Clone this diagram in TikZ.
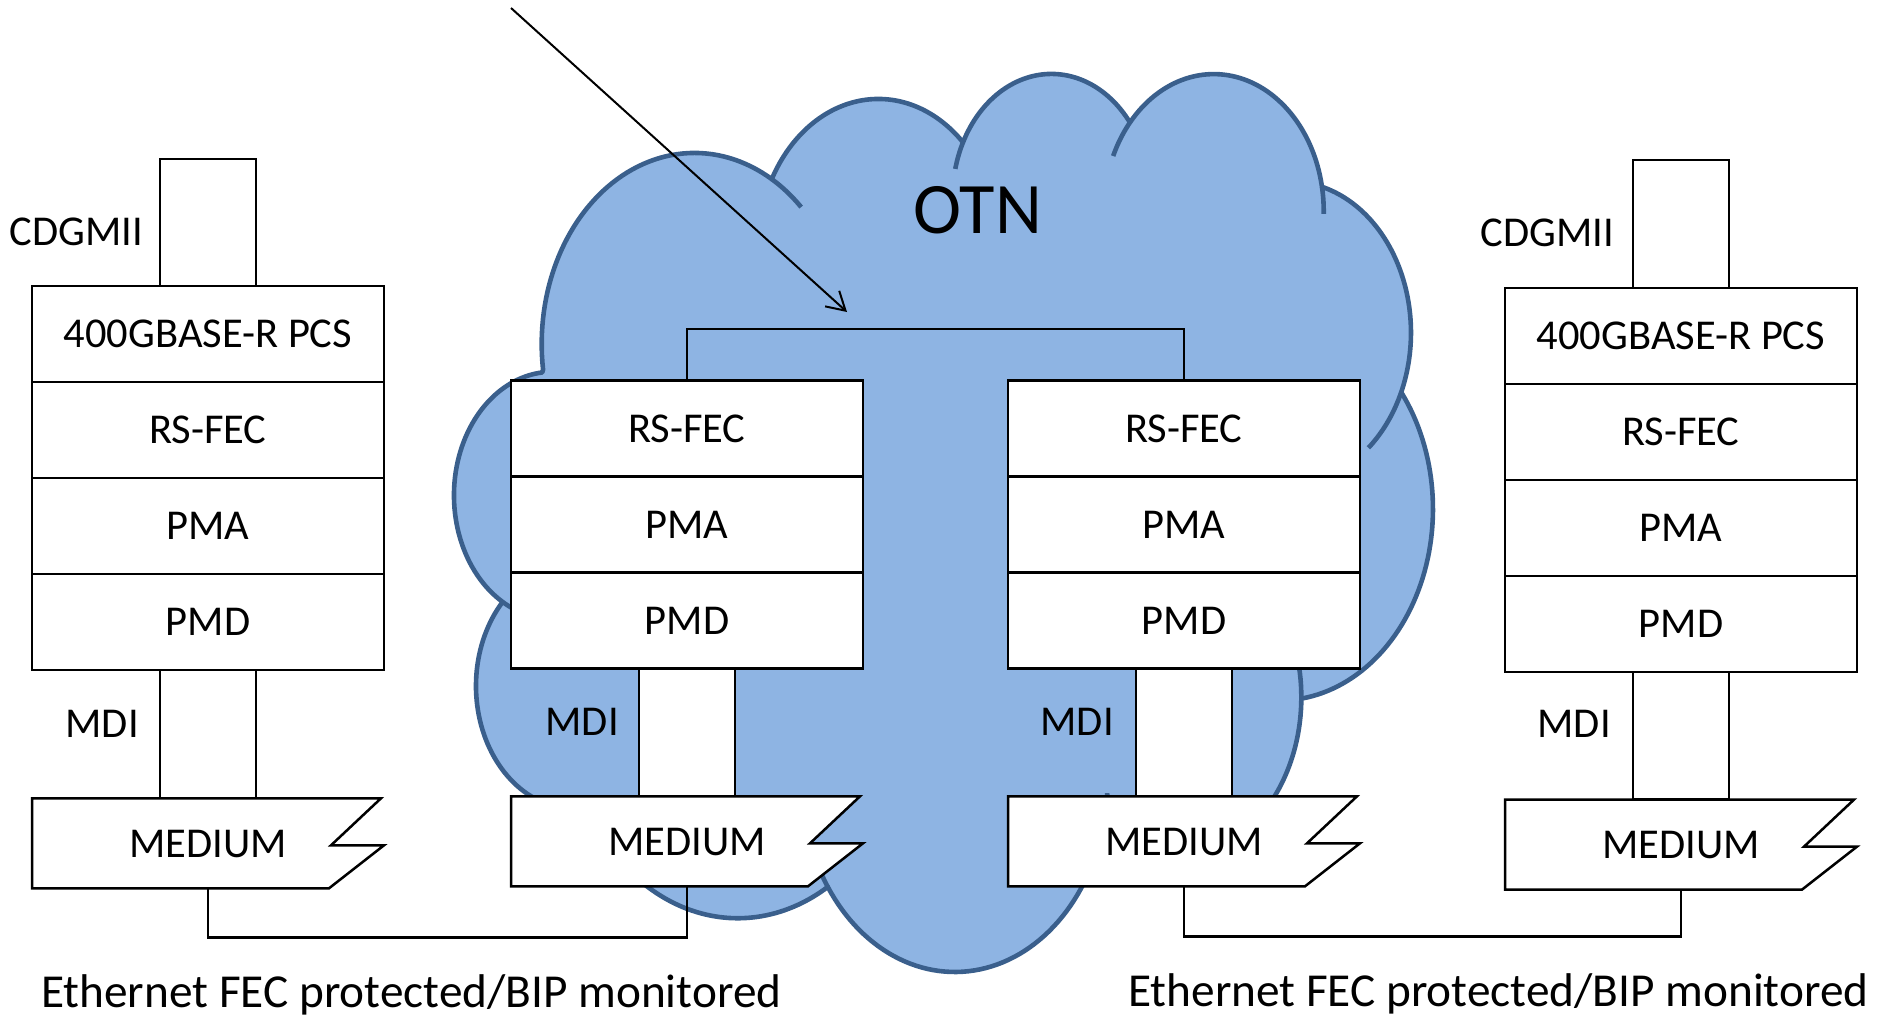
\documentclass[tikz,border=0pt]{standalone}
\usepackage{fontspec}
\setmainfont{Carlito}
\usetikzlibrary{arrows.meta,calc}
\definecolor{cloudfill}{RGB}{142,180,227}
\definecolor{cloudline}{RGB}{58,95,140}
\newcommand\lblfont{\fontsize{42.5pt}{50pt}\selectfont}
\newcommand\otnfont{\fontsize{72.5pt}{84pt}\selectfont}
\newcommand\btmfont{\fontsize{47.3pt}{56pt}\selectfont}
\newcommand\mediumshape[3]{%
  \coordinate (#1c) at (#2,#3);
  \draw[medline] ($(#1c)+(-176,-45)$) -- ($(#1c)+(173,-45)$) -- ($(#1c)+(123,2)$) -- ($(#1c)+(176,2)$) -- ($(#1c)+(121,45)$) -- ($(#1c)+(-176,45)$) -- cycle;
  \node[medbox] (#1) at (#1c) {MEDIUM};
}
\begin{document}
\begin{tikzpicture}[x=1pt,y=-1pt,
  layer/.style={draw,line width=2.5pt,fill=white,minimum width=352pt,minimum height=96pt,inner sep=0pt,text height=27.4pt,text depth=0pt,font=\lblfont},
  iface/.style={draw,line width=2.2pt,fill=white,minimum width=96pt,inner sep=0pt},
  medbox/.style={minimum width=352pt,minimum height=90pt,inner sep=0pt,text height=27.4pt,text depth=0pt,font=\lblfont},
  medline/.style={draw,line width=2.5pt,fill=white,line join=miter},
  lbl/.style={font=\lblfont,inner sep=0pt,anchor=base east},
  conn/.style={draw,line width=2.2pt},
  cloudedge/.style={draw=cloudline,line width=4.6pt,line cap=butt},
]
\useasboundingbox (0,0) rectangle (1879,1015);

% ---------- cloud ----------
\filldraw[fill=cloudfill,draw=cloudline,line width=4.6pt,line join=round]
  plot[domain=-187.747:-59.632,samples=60] ({694.5+152.83*cos(\x)},{343.9+190.97*sin(\x)})
  -- plot[domain=-152.02:-45.464,samples=60] ({878.35+120.70*cos(\x)},{249.95+151.01*sin(\x)})
  -- plot[domain=-153.49:-37.348,samples=60] ({1051.41+98.79*cos(\x)},{197.45+123.54*sin(\x)})
  -- plot[domain=-139.716:-10.212,samples=60] ({1213.79+109.92*cos(\x)},{211.12+137.04*sin(\x)})
  -- plot[domain=-74.768:23.212,samples=60] ({1290.27+120.70*cos(\x)},{332.65+151.13*sin(\x)})
  -- plot[domain=-37.545:81.862,samples=60] ({1279.63+153.33*cos(\x)},{508.95+191.59*sin(\x)})
  -- plot[domain=0.46:121.98,samples=60] ({1170.41+130.93*cos(\x)},{697.30+163.48*sin(\x)})
  -- plot[domain=16.845:146.23,samples=60] ({954.82+152.81*cos(\x)},{780.49+191.49*sin(\x)})
  -- plot[domain=58.989:150.19,samples=60] ({737.76+174.72*cos(\x)},{699.16+219.08*sin(\x)})
  -- plot[domain=83.307:223.09,samples=60] ({574.66+98.68*cos(\x)},{685.93+122.98*sin(\x)})
  -- plot[domain=120.35:264.114,samples=60] ({552.30+98.34*cos(\x)},{495.32+123.54*sin(\x)})
  -- cycle;
% inner arcs of the cloud
\draw[cloudedge] plot[domain=-59.632:-45.75,samples=20] ({694.5+152.83*cos(\x)},{343.9+190.97*sin(\x)});
\draw[cloudedge] plot[domain=-166.64:-153.49,samples=20] ({1051.41+98.79*cos(\x)},{197.45+123.54*sin(\x)});
\draw[cloudedge] plot[domain=-156.29:-139.716,samples=20] ({1213.79+109.92*cos(\x)},{211.12+137.04*sin(\x)});
\draw[cloudedge] plot[domain=-10.212:1.116,samples=20] ({1213.79+109.92*cos(\x)},{211.12+137.04*sin(\x)});
\draw[cloudedge] plot[domain=23.212:49.65,samples=20] ({1290.27+120.70*cos(\x)},{332.65+151.13*sin(\x)});
\draw[cloudedge] plot[domain=-64.59:0.46,samples=30] ({1170.41+130.93*cos(\x)},{697.30+163.48*sin(\x)});
\draw[cloudedge] plot[domain=3.79:16.845,samples=20] ({954.82+152.81*cos(\x)},{780.49+191.49*sin(\x)});
\draw[cloudedge] plot[domain=146.23:158.47,samples=20] ({954.82+152.81*cos(\x)},{780.49+191.49*sin(\x)});
\draw[cloudedge] plot[domain=67.34:83.307,samples=20] ({574.66+98.68*cos(\x)},{685.93+122.98*sin(\x)});
\draw[cloudedge] plot[domain=85:120.35,samples=20] ({552.30+98.34*cos(\x)},{495.32+123.54*sin(\x)});

% ---------- left stack ----------
\node[iface,minimum height=127pt] (cdgL) at (208,222.5) {};
\node[layer] (pcsL) at (208,334) {400GBASE-R PCS};
\node[layer] (rsL) at (208,430) {RS-FEC};
\node[layer] (pmaL) at (208,526) {PMA};
\node[layer] (pmdL) at (208,622) {PMD};
\node[iface,minimum height=128pt] (mdiL) at (208,734) {};
\mediumshape{medL}{208}{843.3}

% ---------- middle-left stack ----------
\node[layer] (rsML) at (687,428.5) {RS-FEC};
\node[layer] (pmaML) at (687,524.5) {PMA};
\node[layer] (pmdML) at (687,620.5) {PMD};
\node[iface,minimum height=127.5pt] (mdiML) at (687,732.3) {};
\mediumshape{medML}{687}{841.3}

% ---------- middle-right stack ----------
\node[layer] (rsMR) at (1184,428.5) {RS-FEC};
\node[layer] (pmaMR) at (1184,524.5) {PMA};
\node[layer] (pmdMR) at (1184,620.5) {PMD};
\node[iface,minimum height=127.5pt] (mdiMR) at (1184,732.3) {};
\mediumshape{medMR}{1184}{841.3}

% ---------- right stack ----------
\node[iface,minimum height=128pt] (cdgR) at (1681,224) {};
\node[layer] (pcsR) at (1681,336) {400GBASE-R PCS};
\node[layer] (rsR) at (1681,432) {RS-FEC};
\node[layer] (pmaR) at (1681,528) {PMA};
\node[layer] (pmdR) at (1681,624) {PMD};
\node[iface,minimum height=127.5pt] (mdiR) at (1681,735.5) {};
\mediumshape{medR}{1681}{844.6}

% ---------- connectors ----------
\draw[conn] (rsML.north) -- ++(0,-50) -| (rsMR.north);
\draw[conn] (medL.south) -- ++(0,49) -| (medML.south);
\draw[conn] (medMR.south) -- ++(0,50) -| (medR.south);

% ---------- labels ----------
\node[lbl] (cdgLt) at (143,245) {CDGMII};
\node[lbl] (cdgRt) at (1614,246) {CDGMII};
\node[lbl] (mdiLt) at (139,737) {MDI};
\node[lbl] (mdiMLt) at (619,735) {MDI};
\node[lbl] (mdiMRt) at (1114,735) {MDI};
\node[lbl] (mdiRt) at (1611,737) {MDI};
\node[font=\otnfont,inner sep=0pt,anchor=base east] (otn) at (1042,233) {OTN};
\node[font=\btmfont,inner sep=0pt,anchor=base west] (ethL) at (41,1007) {Ethernet FEC protected/BIP monitored};
\node[font=\btmfont,inner sep=0pt,anchor=base west] (ethR) at (1128,1006) {Ethernet FEC protected/BIP monitored};

% ---------- arrow ----------
\coordinate (arrS) at (511,8);
\coordinate (arrE) at (847,312);
\draw[line width=2pt,-{Straight Barb[length=18pt,width=21pt]}] (arrS) -- (arrE);
\end{tikzpicture}
\end{document}
